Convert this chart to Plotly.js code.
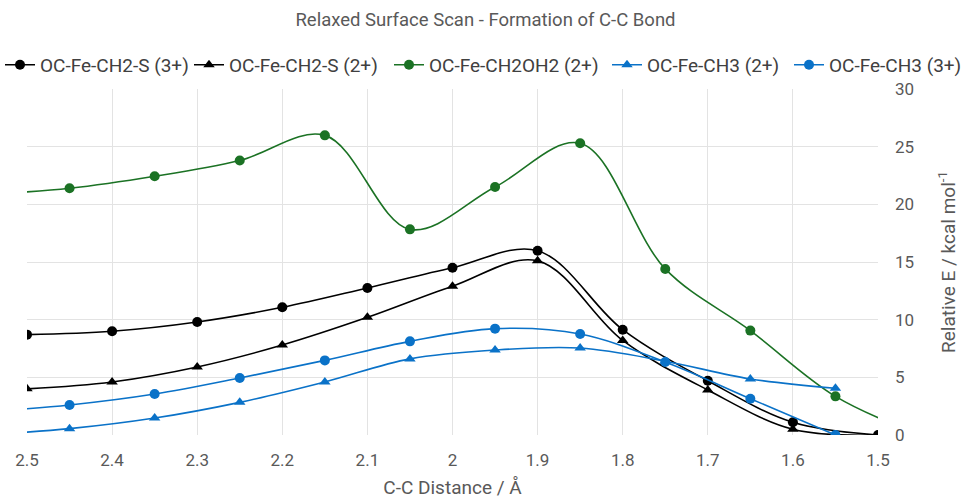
<!DOCTYPE html>
<html><head><meta charset="utf-8">
<script src="https://cdn.plot.ly/plotly-3.0.1.min.js"></script>
<style>html,body{margin:0;padding:0;background:#fff}#chart{width:971px;height:499px}</style>
</head><body><div id="chart"></div>
<script>
const xWhole = [2.5, 2.4, 2.3, 2.2, 2.1, 2.0, 1.9, 1.8, 1.7, 1.6, 1.5];
const ch2s3 = [8.7, 9.0, 9.8, 11.07, 12.75, 14.5, 15.98, 9.13, 4.7, 1.1, 0];
const ch2s2 = [4.0, 4.6, 5.9, 7.8, 10.2, 12.9, 15.1, 8.2, 3.9, 0.5, 0];
const xGreen = [2.55, 2.45, 2.35, 2.25, 2.15, 2.05, 1.95, 1.85, 1.75, 1.65, 1.55, 1.45];
const ch2oh2 = [20.85, 21.39, 22.43, 23.8, 25.98, 17.83, 21.5, 25.29, 14.4, 9.05, 3.35, 0.0];
const xBlue = [2.55, 2.45, 2.35, 2.25, 2.15, 2.05, 1.95, 1.85, 1.75, 1.65, 1.55];
const ch3_2 = [0.0, 0.55, 1.47, 2.83, 4.6, 6.6, 7.37, 7.54, 6.4, 4.86, 4.05];
const ch3_3 = [2.0, 2.6, 3.55, 4.94, 6.47, 8.12, 9.22, 8.76, 6.33, 3.15, 0.0];
const xTicks = [2.5, 2.4, 2.3, 2.2, 2.1, 2, 1.9, 1.8, 1.7, 1.6, 1.5];

const BLACK = '#000000', GREEN = '#1b7224', BLUE = '#0a72c8';
const FONT = 'Roboto, sans-serif';
function tr(name, x, y, color, sym, size, leg) {
  return {type:'scatter', mode:'lines+markers', name:name, x:x, y:y, legend:leg,
    line:{color:color, width:1.6, shape:'spline', smoothing:1},
    marker:{color:color, symbol:sym, size:size}, cliponaxis:true};
}
const data = [
  tr('OC-Fe-CH2-S (3+)', xWhole, ch2s3, BLACK, 'circle', 10, 'legend'),
  tr('OC-Fe-CH2-S (2+)', xWhole, ch2s2, BLACK, 'triangle-up', 10, 'legend2'),
  tr('OC-Fe-CH2OH2 (2+)', xGreen, ch2oh2, GREEN, 'circle', 10, 'legend3'),
  tr('OC-Fe-CH3 (2+)', xBlue, ch3_2, BLUE, 'triangle-up', 10, 'legend4'),
  tr('OC-Fe-CH3 (3+)', xBlue, ch3_3, BLUE, 'circle', 10, 'legend5')
];
function leg(textStart) {
  return {orientation:'h', x:(textStart - 45) / 971, xanchor:'left', xref:'container', y:0.87, yref:'container', yanchor:'middle',
    font:{size:19, color:'#404040', family:FONT}, itemwidth:30, bgcolor:'rgba(0,0,0,0)'};
}
const layout = {
  width:971, height:499,
  margin:{l:27, r:93, t:89, b:64, autoexpand:false},
  paper_bgcolor:'#fff', plot_bgcolor:'#fff',
  font:{family:FONT, color:'#595959', size:17},
  title:{text:'Relaxed Surface Scan - Formation of C-C Bond', font:{size:18.5, color:'#595959', family:FONT}, x:0.5, xanchor:'center', xref:'container', y:0.96, yanchor:'middle'},
  showlegend:true,
  legend:leg(33), legend2:leg(234), legend3:leg(434), legend4:leg(652), legend5:leg(834),
  xaxis:{range:[2.5, 1.5], tickvals:xTicks, ticktext:xTicks.map(String), showgrid:true, gridcolor:'#e3e3e3', gridwidth:1, zeroline:false, showline:false, ticks:'', ticklabelstandoff:13, tickfont:{size:17, color:'#595959'},
    title:{text:'C-C Distance / Å', font:{size:19, color:'#595959'}, standoff:14}},
  yaxis:{range:[0, 30], dtick:5, side:'right', showgrid:true, gridcolor:'#e3e3e3', zeroline:false, showline:false, ticks:'', ticklabelstandoff:16, tickfont:{size:17, color:'#595959'},
    title:{text:'Relative E / kcal mol<sup>-1</sup>', font:{size:19, color:'#595959'}, standoff:28}}
};
Plotly.newPlot('chart', data, layout, {displayModeBar:false, staticPlot:true});
</script></body></html>
